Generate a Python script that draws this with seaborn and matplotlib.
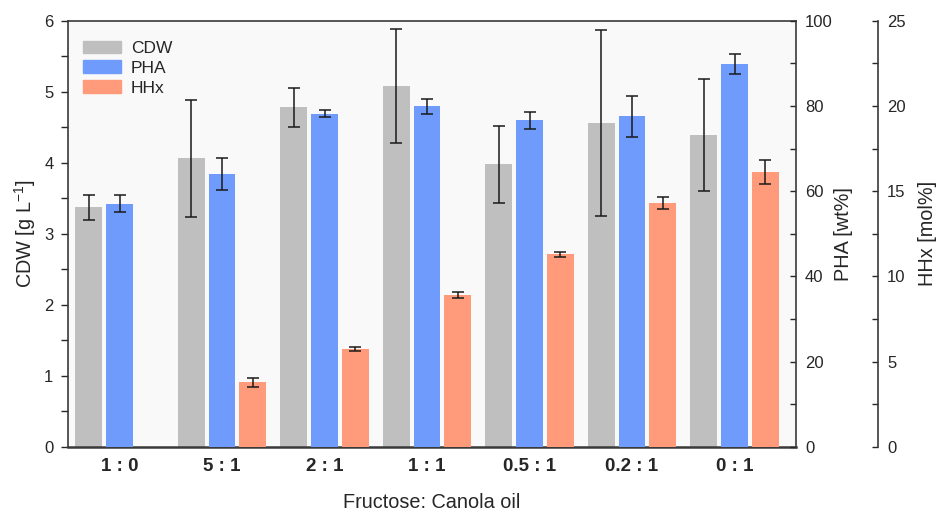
import numpy as np
import pandas as pd
import matplotlib
matplotlib.use("Agg")
import matplotlib.pyplot as plt
from matplotlib.patches import Patch
from matplotlib.ticker import MultipleLocator
import seaborn as sns

# Werte
ratios = ["1 : 0", "5 : 1", "2 : 1", "1 : 1", "0.5 : 1", "0.2 : 1", "0 : 1"]
cdw = [3.37, 4.06, 4.78, 5.08, 3.98, 4.56, 4.39]
cdw_err = [0.17, 0.82, 0.27, 0.80, 0.54, 1.31, 0.79]
pha = [57.0, 64.0, 78.2, 79.9, 76.6, 77.6, 89.8]
pha_err = [2.0, 3.8, 0.9, 1.8, 1.9, 4.8, 2.4]
hhx = [np.nan, 3.78, 5.74, 8.92, 11.29, 14.28, 16.12]
hhx_err = [np.nan, 0.27, 0.14, 0.17, 0.14, 0.35, 0.73]

c_cdw = "#bfbfbf"
c_pha = "#6f9bfc"
c_hhx = "#ff9b7a"

sns.set_theme(style="ticks")
plt.rcParams["font.family"] = ["Liberation Sans", "DejaVu Sans"]
plt.rcParams["mathtext.fontset"] = "custom"
plt.rcParams["mathtext.rm"] = "Liberation Sans"
plt.rcParams["mathtext.it"] = "Liberation Sans:italic"

pos = np.arange(len(ratios))
df = pd.DataFrame({
    "ratio": ratios,
    "pos": pos,
    "cdw": cdw, "cdw_err": cdw_err,
    "pha": pha, "pha_err": pha_err,
    "hhx": hhx, "hhx_err": hhx_err,
})

fig = plt.figure(figsize=(9.38, 5.12), dpi=100)
ax = fig.add_axes([68 / 938, 1 - 446.8 / 512, (796 - 68) / 938, (446.8 - 20.7) / 512])
ax2 = ax.twinx()
ax3 = ax.twinx()
ax.set_facecolor("#f9f9f9")

shift = 0.3
series = [
    (ax, "cdw", -shift, c_cdw),
    (ax2, "pha", 0.0, c_pha),
    (ax3, "hhx", shift, c_hhx),
]
for a, col, off, color in series:
    d = df.dropna(subset=[col]).copy()
    d["x"] = d["pos"] + off
    sns.barplot(data=d, x="x", y=col, native_scale=True, width=0.26,
                color=color, errorbar=None, linewidth=0, saturation=1, ax=a)
    a.errorbar(d["x"], d[col], yerr=d[col + "_err"], fmt="none",
               ecolor="#1a1a1a", elinewidth=1.1, capsize=4.5, capthick=1.1, zorder=5)

ax.set_xlim(-0.503, 6.6)
ax.set_ylim(0, 6)
ax2.set_ylim(0, 100)
ax3.set_ylim(0, 25)

ax.set_xticks(pos)
ax.set_xticklabels(ratios, fontsize=13.5, fontweight="bold")
ax.tick_params(axis="x", length=0, pad=8)
ax.set_xlabel("Fructose: Canola oil", fontsize=14.3, labelpad=13)

ax.yaxis.set_major_locator(MultipleLocator(1))
ax.yaxis.set_minor_locator(MultipleLocator(0.5))
ax.tick_params(axis="y", which="both", direction="out", length=5, width=1, labelsize=12, pad=5.5)
ax.set_ylabel("CDW [g L$^{-1}$]", fontsize=14.3, labelpad=4.5)

ax2.yaxis.set_major_locator(MultipleLocator(20))
ax2.yaxis.set_minor_locator(MultipleLocator(10))
ax2.tick_params(axis="y", which="both", direction="in", length=4.5, width=1, labelsize=12, pad=6.5)
ax2.set_ylabel("PHA [wt%]", fontsize=14.3, labelpad=1)

ax3.spines["right"].set_position(("axes", (878 - 68) / (796 - 68)))
ax3.yaxis.set_major_locator(MultipleLocator(5))
ax3.yaxis.set_minor_locator(MultipleLocator(2.5))
ax3.tick_params(axis="y", which="both", direction="in", length=4.5, width=1, labelsize=12, pad=6.5)
ax3.set_ylabel("HHx [mol%]", fontsize=14.3, labelpad=9)

for a in (ax, ax2, ax3):
    for s in a.spines.values():
        s.set_color("#3a3a3a")
        s.set_linewidth(1.2)
for s in ("top", "left", "bottom"):
    ax3.spines[s].set_visible(False)
    ax2.spines[s].set_visible(False)
ax.spines["bottom"].set_linewidth(1.8)
ax.spines["right"].set_visible(False)

handles = [Patch(color=c_cdw, label="CDW"),
           Patch(color=c_pha, label="PHA"),
           Patch(color=c_hhx, label="HHx")]
ax.legend(handles=handles, loc="upper left", bbox_to_anchor=(-0.001, 0.99),
          frameon=False, fontsize=12.5, handlelength=2.2, handleheight=0.75,
          handletextpad=0.55, labelspacing=0.25)

fig.savefig("out.png", dpi=100)
